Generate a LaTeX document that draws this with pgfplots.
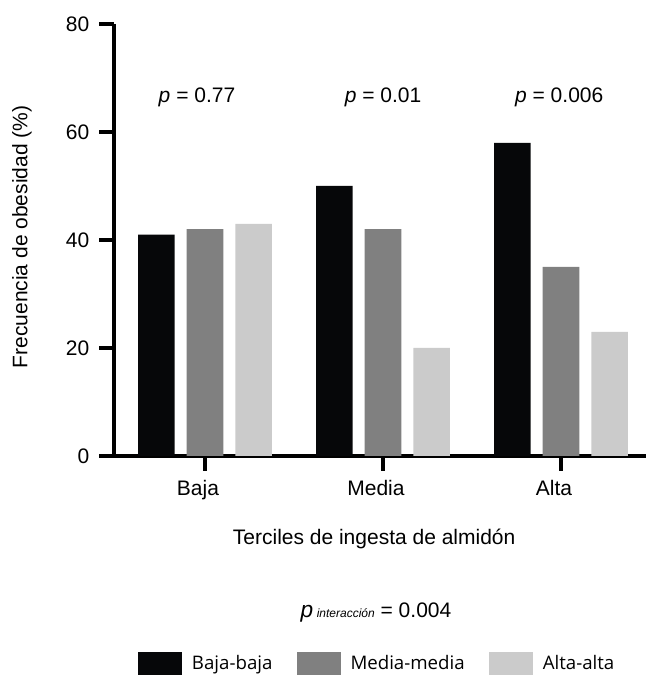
\documentclass[border=0pt]{standalone}
\usepackage{fontspec}
\setmainfont{Liberation Sans}
\newfontfamily\legfont{Open Sans}
\usepackage{pgfplots}
\pgfplotsset{compat=1.18}
\definecolor{barblack}{HTML}{060709}
\definecolor{bargray}{HTML}{808080}
\definecolor{barlight}{HTML}{CBCBCB}
\pgfplotsset{boxlegend/.style={legend image code/.code={\fill[##1,draw=none] (0pt,-9pt) rectangle (33pt,9pt);}}}
\begin{document}
\begin{tikzpicture}
\useasboundingbox (0,0) rectangle (486pt,506.25pt);
\begin{axis}[
  at={(85.5pt,164.25pt)}, anchor=south west,
  scale only axis, width=399pt, height=324pt,
  xmin=-0.5112, xmax=2.4775, ymin=0, ymax=80,
  axis x line*=bottom, axis y line*=left,
  axis line style={line width=3pt, black},
  ybar=9pt, bar width=27.4pt,
  tick align=outside, major tick length=11pt,
  tick style={line width=3pt, black},
  ytick={0,20,40,60,80},
  xtick={0,1,2}, xticklabels={Baja,Media,Alta},
  /pgf/number format/assume math mode=true,
  ticklabel style={font=\fontsize{15.75}{18}\selectfont},
  yticklabel style={xshift=-4pt},
  xticklabel style={xshift=-5.25pt, yshift=-3.5pt},
  ylabel={Frecuencia de obesidad (\%)},
  ylabel style={at={(axis description cs:-0.173,0.507)}, anchor=center, font=\fontsize{15.75}{18}\selectfont},
  xlabel={Terciles de ingesta de almidón},
  xlabel style={at={(axis description cs:0.489,-0.2037)}, anchor=base, font=\fontsize{15.75}{18}\selectfont},
  clip=false,
  legend columns=3,
  legend style={at={(axis description cs:0.0451,-0.481)}, anchor=west, draw=none, fill=none,
    inner sep=0pt, outer sep=0pt, font=\legfont\fontsize{14}{16}\selectfont,
    nodes={inner sep=0pt},
    /tikz/every odd column/.append style={column sep=7.5pt},
    /tikz/every even column/.append style={column sep=18pt}},
]
\addplot[boxlegend, fill=barblack, draw=none] coordinates {(0,41) (1,50) (2,58)};
\addlegendentry{Baja-baja}
\addplot[boxlegend, fill=bargray, draw=none] coordinates {(0,42) (1,42) (2,35)};
\addlegendentry{Media-media}
\addplot[boxlegend, fill=barlight, draw=none] coordinates {(0,43) (1,20) (2,23)};
\addlegendentry{Alta-alta}
\node[anchor=base, font=\fontsize{15.75}{18}\selectfont] at (axis cs:-0.045,65.4) {\textit{p} = 0.77};
\node[anchor=base, font=\fontsize{15.75}{18}\selectfont] at (axis cs:1,65.4) {\textit{p} = 0.01};
\node[anchor=base, font=\fontsize{15.75}{18}\selectfont] at (axis cs:1.99,65.4) {\textit{p} = 0.006};
\node[anchor=base, font=\fontsize{15.75}{18}\selectfont] at (axis description cs:0.4925,-0.3727)
  {{\fontsize{17}{18}\selectfont\textit{p}}\,{\fontsize{9}{10}\selectfont\itshape interacción} = 0.004};
\end{axis}
\end{tikzpicture}
\end{document}
